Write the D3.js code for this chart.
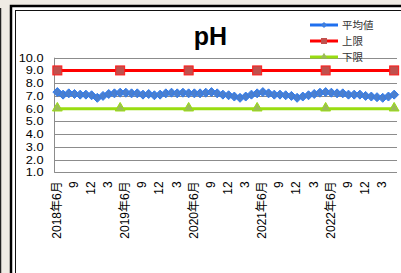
<!DOCTYPE html>
<html lang="ja">
<head>
<meta charset="UTF-8">
<title>pH</title>
<script src="https://d3js.org/d3.v7.min.js"></script>
<style>
  body { margin: 0; background: #efebe4; }
  svg { display: block; }
</style>
</head>
<body>
<div id="chart"></div>
<script>
// months from 2018年6月 to 2023年5月
const categories = [
  "2018-06","2018-07","2018-08","2018-09","2018-10","2018-11","2018-12","2019-01","2019-02","2019-03","2019-04","2019-05",
  "2019-06","2019-07","2019-08","2019-09","2019-10","2019-11","2019-12","2020-01","2020-02","2020-03","2020-04","2020-05",
  "2020-06","2020-07","2020-08","2020-09","2020-10","2020-11","2020-12","2021-01","2021-02","2021-03","2021-04","2021-05",
  "2021-06","2021-07","2021-08","2021-09","2021-10","2021-11","2021-12","2022-01","2022-02","2022-03","2022-04","2022-05",
  "2022-06","2022-07","2022-08","2022-09","2022-10","2022-11","2022-12","2023-01","2023-02","2023-03","2023-04","2023-05"
];
const tickLabels = [
  "2018年6月","","","9","","","12","","","3","","",
  "2019年6月","","","9","","","12","","","3","","",
  "2020年6月","","","9","","","12","","","3","","",
  "2021年6月","","","9","","","12","","","3","","",
  "2022年6月","","","9","","","12","","","3","",""
];
const average = [
  7.30, 7.10, 7.20, 7.15, 7.10, 7.10, 7.05, 6.85, 7.00, 7.15, 7.20, 7.25,
  7.25, 7.20, 7.20, 7.10, 7.15, 7.05, 7.10, 7.20, 7.25, 7.20, 7.25, 7.20,
  7.20, 7.20, 7.25, 7.30, 7.20, 7.10, 7.05, 6.95, 6.85, 6.95, 7.10, 7.20,
  7.30, 7.20, 7.10, 7.10, 7.05, 7.00, 6.85, 6.95, 7.05, 7.15, 7.25, 7.30,
  7.25, 7.20, 7.20, 7.10, 7.10, 7.10, 7.00, 6.95, 6.90, 6.85, 6.95, 7.10
];
const limitMonths = ["2018-06","2019-05","2020-05","2021-05","2022-05","2023-05"];
const upperLimit = [9.0, 9.0, 9.0, 9.0, 9.0, 9.0];
const lowerLimit = [6.0, 6.0, 6.0, 6.0, 6.0, 6.0];
const yTicks = [1,2,3,4,5,6,7,8,9,10];
const legendNames = ["平均値", "上限", "下限"];

const W = 401, H = 273;
const plot = { left: 54.5, right: 397, top: 57.7, bottom: 172.3 };

const svg = d3.select("#chart").append("svg")
  .attr("width", W).attr("height", H);

// window frame
svg.append("rect").attr("x", 0).attr("y", 0).attr("width", W).attr("height", H).attr("fill", "#efebe4");
svg.append("line").attr("x1", 0.5).attr("x2", 0.5).attr("y1", 8).attr("y2", H).attr("stroke", "#222").attr("stroke-width", 1.5);
svg.append("rect").attr("x", 11).attr("y", 6).attr("width", W + 20).attr("height", H + 20)
  .attr("fill", "#fff").attr("stroke", "#000").attr("stroke-width", 2.5);
svg.append("rect").attr("x", 15.5).attr("y", 10.5).attr("width", W + 20).attr("height", H + 20)
  .attr("fill", "#fff").attr("stroke", "#111").attr("stroke-width", 1);

const x = d3.scaleBand().domain(categories).range([plot.left, plot.right]);
const cx = d => x(d) + x.bandwidth() / 2;
const y = d3.scaleLinear().domain([1, 10]).range([plot.bottom, plot.top]);

// gridlines
svg.append("g").selectAll("line").data(yTicks).join("line")
  .attr("x1", plot.left).attr("x2", plot.right)
  .attr("y1", d => Math.round(y(d)) + 0.5).attr("y2", d => Math.round(y(d)) + 0.5)
  .attr("stroke", "#8c8c8c").attr("stroke-width", 1);
svg.append("line").attr("x1", plot.left).attr("x2", plot.left)
  .attr("y1", plot.top).attr("y2", plot.bottom + 0.5).attr("stroke", "#8c8c8c");

// y labels (tightly packed, so stretched sideways rather than enlarged)
svg.append("g").selectAll("text").data(yTicks).join("text")
  .attr("transform", d => `translate(43.5,${y(d)}) scale(1.16,1)`)
  .attr("dy", "0.36em")
  .attr("text-anchor", "end")
  .attr("font-family", "Liberation Sans, Arial, sans-serif").attr("font-size", 11)
  .attr("fill", "#000").text(d => d.toFixed(1));

// x labels
svg.append("g").selectAll("text")
  .data(categories.map((c, i) => ({ c, t: tickLabels[i] })).filter(d => d.t !== ""))
  .join("text")
  .attr("transform", d => `translate(${cx(d.c) - 1},${plot.bottom + 9}) rotate(-90)`)
  .attr("dy", "0.36em").attr("text-anchor", "end")
  .attr("font-family", "Liberation Sans, Noto Sans CJK JP, sans-serif").attr("font-size", 12)
  .attr("fill", "#000").text(d => d.t);

// title
svg.append("text").attr("x", 210.5).attr("y", 45).attr("text-anchor", "middle")
  .attr("font-family", "Liberation Sans, Arial, sans-serif").attr("font-weight", "bold")
  .attr("font-size", 25).attr("fill", "#000").text("pH");

const line = d3.line().x(d => cx(d.c)).y(d => y(d.v));

// upper limit
const upper = limitMonths.map((c, i) => ({ c, v: upperLimit[i] }));
svg.append("path").datum(upper).attr("d", line).attr("fill", "none")
  .attr("stroke", "#ff0000").attr("stroke-width", 3);
svg.append("g").selectAll("rect").data(upper).join("rect")
  .attr("x", d => cx(d.c) - 4.5).attr("y", d => y(d.v) - 4.5)
  .attr("width", 9).attr("height", 9)
  .attr("fill", "#c0504d").attr("stroke", "#ff1a1a").attr("stroke-width", 1);

// lower limit
const lower = limitMonths.map((c, i) => ({ c, v: lowerLimit[i] }));
svg.append("path").datum(lower).attr("d", line).attr("fill", "none")
  .attr("stroke", "#99dd11").attr("stroke-width", 3);
const tri = d3.symbol().type(d3.symbolTriangle).size(42);
svg.append("g").selectAll("path").data(lower).join("path")
  .attr("transform", d => `translate(${cx(d.c)},${y(d.v) - 0.5})`)
  .attr("d", tri).attr("fill", "#9bbb59").attr("stroke", "#99dd11").attr("stroke-width", 1);

// average
const avg = categories.map((c, i) => ({ c, v: average[i] }));
svg.append("path").datum(avg).attr("d", line).attr("fill", "none")
  .attr("stroke", "#1f6fee").attr("stroke-width", 2.5);
svg.append("g").selectAll("path").data(avg).join("path")
  .attr("transform", d => `translate(${cx(d.c)},${y(d.v)})`)
  .attr("d", "M0,-4.5L4.5,0L0,4.5L-4.5,0Z")
  .attr("fill", "#4a7fcf").attr("stroke", "#2f7cf0").attr("stroke-width", 1);

// legend
const legend = svg.append("g").selectAll("g").data(legendNames).join("g")
  .attr("transform", (d, i) => `translate(310,${25 + i * 16})`);
const legColors = ["#1f6fee", "#ff0000", "#99dd11"];
legend.append("line").attr("x1", 0).attr("x2", 28).attr("y1", 0).attr("y2", 0)
  .attr("stroke", (d, i) => legColors[i]).attr("stroke-width", 3);
legend.each(function (d, i) {
  const g = d3.select(this);
  if (i === 0) g.append("path").attr("d", "M14,-2.5L16.5,0L14,2.5L11.5,0Z").attr("fill", "#4a7fcf").attr("stroke", "#2f7cf0");
  if (i === 1) g.append("rect").attr("x", 11).attr("y", -3).attr("width", 6).attr("height", 6).attr("fill", "#c0504d");
  if (i === 2) g.append("path").attr("transform", "translate(14,-0.5)").attr("d", d3.symbol().type(d3.symbolTriangle).size(18)).attr("fill", "#9bbb59");
});
legend.append("text").attr("x", 32).attr("y", 0).attr("dy", "0.36em")
  .attr("font-family", "Noto Sans CJK JP, sans-serif").attr("font-size", 10.5)
  .attr("fill", "#333").text(d => d);
</script>
</body>
</html>
